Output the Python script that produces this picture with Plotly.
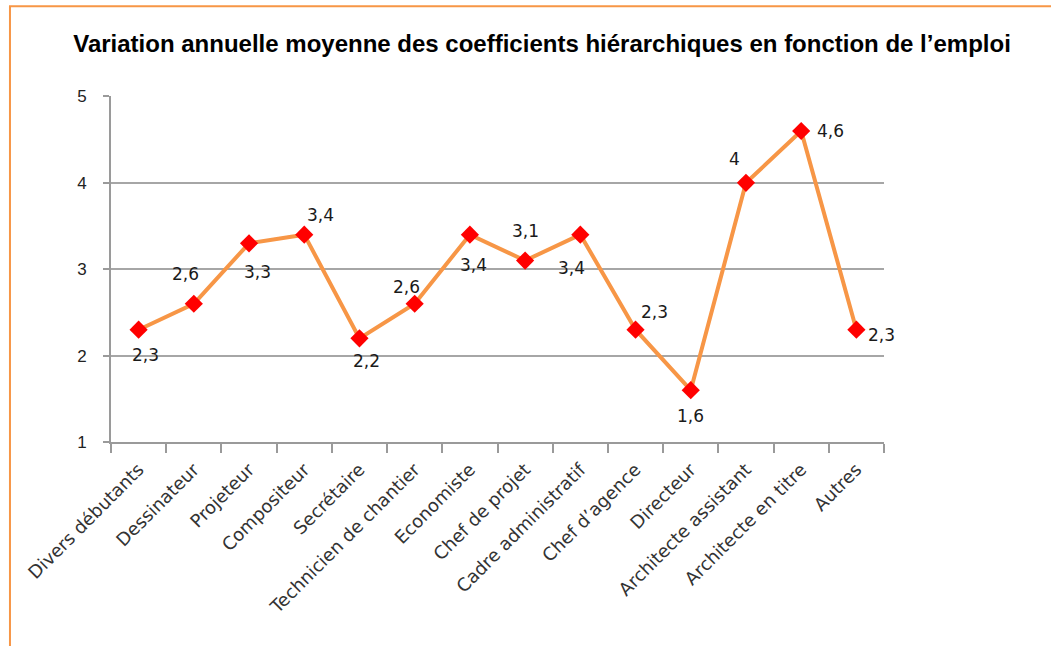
import plotly.graph_objects as go

# Job categories and mean annual variation of the hierarchical coefficients
emplois = [
    "Divers débutants", "Dessinateur", "Projeteur", "Compositeur", "Secrétaire",
    "Technicien de chantier", "Economiste", "Chef de projet", "Cadre administratif",
    "Chef d’agence", "Directeur", "Architecte assistant", "Architecte en titre", "Autres",
]
variation = [2.3, 2.6, 3.3, 3.4, 2.2, 2.6, 3.4, 3.1, 3.4, 2.3, 1.6, 4.0, 4.6, 2.3]
y_ticks = [1, 2, 3, 4, 5]

# Pixel offsets of each data label relative to its marker
label_offsets = [
    (7, -25), (-8, 30), (8, -29), (16, 20), (7, -23), (-8, 17), (4, -30),
    (0, 30), (-9, -33), (19, 18), (0, -26), (-11, 24), (29, 0), (25, -5),
]


def fr_number(v):
    return str(int(v)) if v == int(v) else f"{v:.1f}".replace(".", ",")


fig = go.Figure()
fig.add_trace(go.Scatter(
    x=emplois, y=variation, mode="lines+markers",
    line=dict(color="#F79646", width=4),
    marker=dict(symbol="diamond", color="#FF0000", size=14),
    showlegend=False, hoverinfo="skip",
))

for name, val, (dx, dy) in zip(emplois, variation, label_offsets):
    fig.add_annotation(
        x=name, y=val, text=fr_number(val),
        showarrow=False, xshift=dx, yshift=dy,
        font=dict(family="DejaVu Sans, sans-serif", size=17, color="#1a1a1a"),
    )

# Orange frame along the top and left edges
fig.add_shape(type="path", xref="paper", yref="paper",
              path="M 1.3 1.2592 L -0.1307 1.2592 L -0.1307 -0.7",
              line=dict(color="#F79646", width=2))

fig.update_layout(
    width=1051, height=646,
    margin=dict(l=111, r=167, t=96, b=204),
    paper_bgcolor="white", plot_bgcolor="white",
    title=dict(
        text="<b>Variation annuelle moyenne des coefficients hiérarchiques en fonction de l’emploi</b>",
        x=0.5576, xref="paper", xanchor="center",
        y=1 - 44 / 646, yref="container", yanchor="middle",
        font=dict(family="Liberation Sans, Arial, sans-serif", size=24, color="black"),
    ),
    xaxis=dict(
        type="category", range=[-0.5, len(emplois) - 0.5],
        tickson="boundaries", ticks="outside", ticklen=9,
        tickcolor="#9a9a9a", tickwidth=2,
        showline=True, linecolor="#9a9a9a", linewidth=2,
        showgrid=False, tickangle=-45, ticklabelstandoff=8,
        tickfont=dict(family="DejaVu Sans, sans-serif", size=18, color="#333333"),
    ),
    yaxis=dict(
        range=[1, 5.005], tickvals=y_ticks, ticks="outside", ticklen=6,
        tickcolor="#9a9a9a", tickwidth=2,
        showline=True, linecolor="#9a9a9a", linewidth=2,
        showgrid=True, gridcolor="#a6a6a6", gridwidth=1.5, zeroline=False,
        tickfont=dict(family="Liberation Sans, Arial, sans-serif", size=17, color="#222222"),
        ticklabelstandoff=13,
    ),
)

fig.write_html("out.html")
